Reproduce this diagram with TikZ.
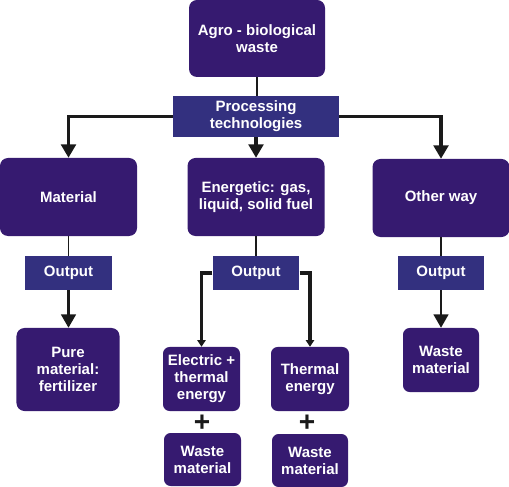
\documentclass[tikz,border=0pt]{standalone}
\usepackage{fontspec}
\setmainfont{Liberation Sans}
\usetikzlibrary{arrows.meta}
\newcommand{\boxfont}{\fontsize{12.8}{14.5}\selectfont\bfseries}
\begin{document}
\begin{tikzpicture}[x=0.03cm, y=-0.03cm,
  every node/.style={font=\boxfont, text=white, align=center, inner sep=0pt},
  wastebox/.style={fill=boxcolor, rounded corners=0.24cm},
  techbox/.style={fill=techcolor},
  link/.style={draw=linecolor, line width=1.5pt},
  bigarrow/.style={draw=linecolor, line width=2.6pt, -{Triangle[length=0.4cm,width=0.44cm]}},
  smallarrow/.style={draw=linecolor, line width=3.4pt, -{Triangle[length=0.2cm,width=0.25cm]}}]
\definecolor{boxcolor}{RGB}{54,26,112}
\definecolor{techcolor}{RGB}{51,48,127}
\definecolor{linecolor}{RGB}{26,26,26}
\useasboundingbox (0,0) rectangle (509,487);
% Top: source and processing
\node[wastebox, minimum width=4.08cm, minimum height=2.31cm] (agro) at (257,38.5) {Agro - biological\\waste};
\node[techbox, minimum width=4.98cm, minimum height=1.23cm] (proc) at (256,116.5) {Processing\\technologies};
% Three processing ways
\node[wastebox, minimum width=4.11cm, minimum height=2.34cm] (mat) at (68.5,197) {Material};
\node[wastebox, minimum width=4.11cm, minimum height=2.34cm] (ener) at (256,197) {Energetic: gas,\\liquid, solid fuel};
\node[wastebox, minimum width=4.11cm, minimum height=2.34cm] (other) at (441,198) {Other way};
% Output boxes
\foreach \name/\x in {outmat/68.5, outener/256, outother/441} {
  \node[techbox, minimum width=2.6cm, minimum height=1.03cm] (\name) at (\x,273) {Output};
}
% Products
\node[wastebox, minimum width=3.09cm, minimum height=2.49cm] (pure) at (68,369.5) {Pure\\material:\\fertilizer};
\node[wastebox, rounded corners=0.2cm, minimum width=2.31cm, minimum height=1.92cm] (elec) at (201.5,379) {Electric +\\thermal\\energy};
\node[wastebox, rounded corners=0.2cm, minimum width=2.34cm, minimum height=1.92cm] (therm) at (310,379) {Thermal\\energy};
\node[wastebox, rounded corners=0.2cm, minimum width=2.31cm, minimum height=1.59cm] (wasteelec) at (202.5,459.5) {Waste\\material};
\node[wastebox, rounded corners=0.2cm, minimum width=2.28cm, minimum height=1.59cm] (wastetherm) at (310,460.5) {Waste\\material};
\node[wastebox, rounded corners=0.2cm, minimum width=2.28cm, minimum height=1.92cm] (wasteother) at (441,360) {Waste\\material};
% Plus signs
\node[text=linecolor, font=\fontsize{24}{24}\selectfont\bfseries] (pluselec) at (202,423) {+};
\node[text=linecolor, font=\fontsize{24}{24}\selectfont\bfseries] (plustherm) at (307,423) {+};
% Connectors
\draw[link] (agro.south) -- (agro.south |- proc.north);
\draw[bigarrow] (proc.west) -| (mat.north);
\draw[bigarrow] (proc.south) -- (proc.south |- ener.north);
\draw[bigarrow] (proc.east) -| (other.north);
\draw[link] (mat) -- (outmat);
\draw[link] (ener) -- (outener);
\draw[link] (other) -- (outother);
\draw[bigarrow, line width=2pt] (outmat.south) -- (outmat.south |- pure.north);
\draw[bigarrow, line width=2pt] (outother) -- (wasteother);
\draw[smallarrow] (outener.west) -| (elec.north);
\draw[smallarrow] (outener.east) -| (therm.north);
\end{tikzpicture}
\end{document}
